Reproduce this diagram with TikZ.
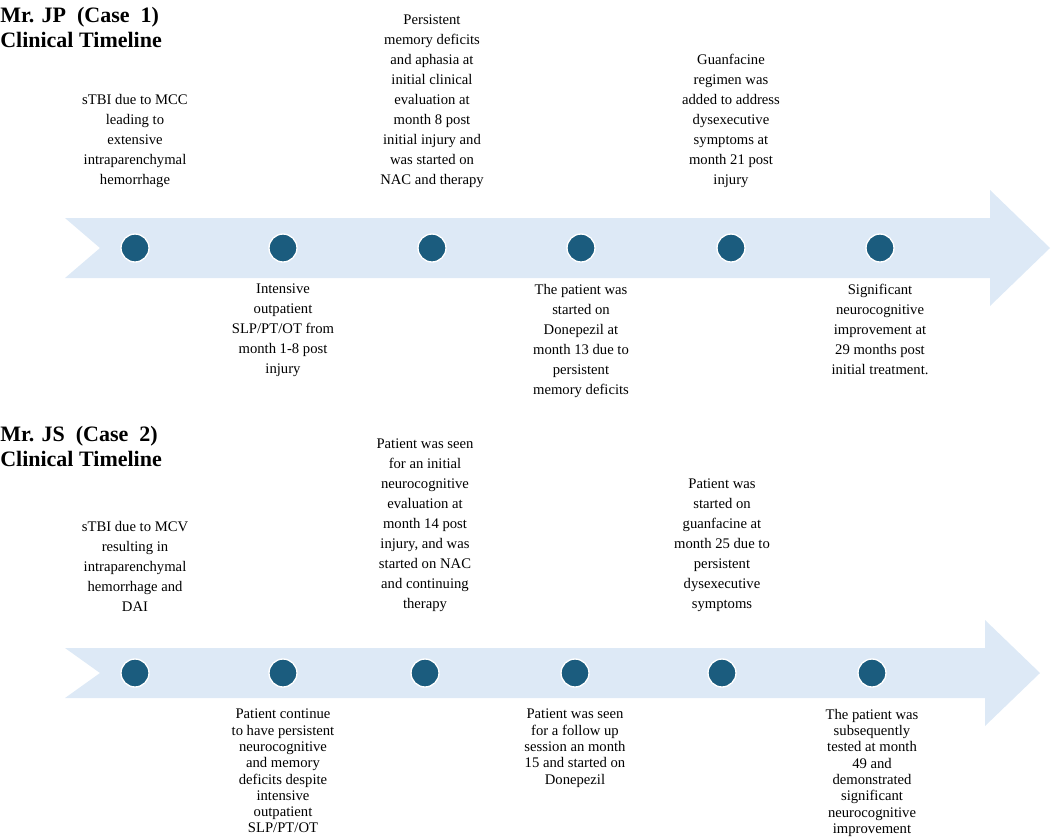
\documentclass[tikz,border=0pt]{standalone}
\usepackage{fontspec}
\setmainfont{Liberation Serif}
\begin{document}
\begin{tikzpicture}[x=0.75pt,y=-0.75pt,
  txt/.style={align=center,font=\fontsize{11}{15}\selectfont,inner sep=0pt},
  tght/.style={align=center,font=\fontsize{11}{12.2}\selectfont,inner sep=0pt},
  ttl/.style={anchor=north west,align=left,font=\fontsize{16.5}{19}\selectfont\bfseries,inner sep=0pt},
  dot/.style={circle,fill=dotc,draw=white,line width=1pt,minimum size=21pt,inner sep=0pt}]
\definecolor{arr}{RGB}{221,233,246}
\definecolor{dotc}{RGB}{27,92,126}
\useasboundingbox (0,0) rectangle (1052,836);
\node[ttl] (t1) at (0,7) {Mr. JP\ \ (Case\ \ 1)\\Clinical Timeline};
\node[ttl] (t2) at (0,426) {Mr. JS\ \ (Case\ \ 2)\\Clinical Timeline};
\fill[arr] (65,218) -- (990,218) -- (990,190) -- (1050,248) -- (990,306) -- (990,278) -- (65,278) -- (100,248) -- cycle;
\fill[arr] (65,648) -- (985,648) -- (985,620) -- (1040,673) -- (985,726) -- (985,698) -- (65,698) -- (100,673) -- cycle;
\foreach \x [count=\i] in {135,283,432,581,731,880} \node[dot] (a\i) at (\x,248) {};
\foreach \x [count=\i] in {135,283,425,575,722,872} \node[dot] (b\i) at (\x,673) {};
\node[txt,anchor=south] (p1) at (135,188) {sTBI due to MCC\\leading to\\extensive\\intraparenchymal\\hemorrhage};
\node[txt,anchor=south] (p3) at (432,188) {Persistent\\memory deficits\\and aphasia at\\initial clinical\\evaluation at\\month 8 post\\initial injury and\\was started on\\NAC and therapy};
\node[txt,anchor=south] (p5) at (731,188) {Guanfacine\\regimen was\\added to address\\dysexecutive\\symptoms at\\month 21 post\\injury};
\node[txt,anchor=north] (p2) at (283,284) {Intensive\\outpatient\\SLP/PT/OT from\\month 1-8 post\\injury};
\node[txt,anchor=north] (p4) at (581,284) {The patient was\\started on\\Donepezil at\\month 13 due to\\persistent\\memory deficits};
\node[txt,anchor=north] (p6) at (880,284) {Significant\\neurocognitive\\improvement at\\29 months post\\initial treatment.};
\node[txt,anchor=south] (q1) at (135,612) {sTBI due to MCV\\resulting in\\intraparenchymal\\hemorrhage and\\DAI};
\node[txt,anchor=south] (q3) at (425,612) {Patient was seen\\for an initial\\neurocognitive\\evaluation at\\month 14 post\\injury, and was\\started on NAC\\and continuing\\therapy};
\node[txt,anchor=south] (q5) at (722,612) {Patient was\\started on\\guanfacine at\\month 25 due to\\persistent\\dysexecutive\\symptoms};
\node[tght,anchor=north] (q2) at (283,709) {Patient continue\\to have persistent\\neurocognitive\\and memory\\deficits despite\\intensive\\outpatient\\SLP/PT/OT};
\node[tght,anchor=north] (q4) at (575,709) {Patient was seen\\for a follow up\\session an month\\15 and started on\\Donepezil};
\node[tght,anchor=north] (q6) at (872,709) {The patient was\\subsequently\\tested at month\\49 and\\demonstrated\\significant\\neurocognitive\\improvement};
\end{tikzpicture}
\end{document}
